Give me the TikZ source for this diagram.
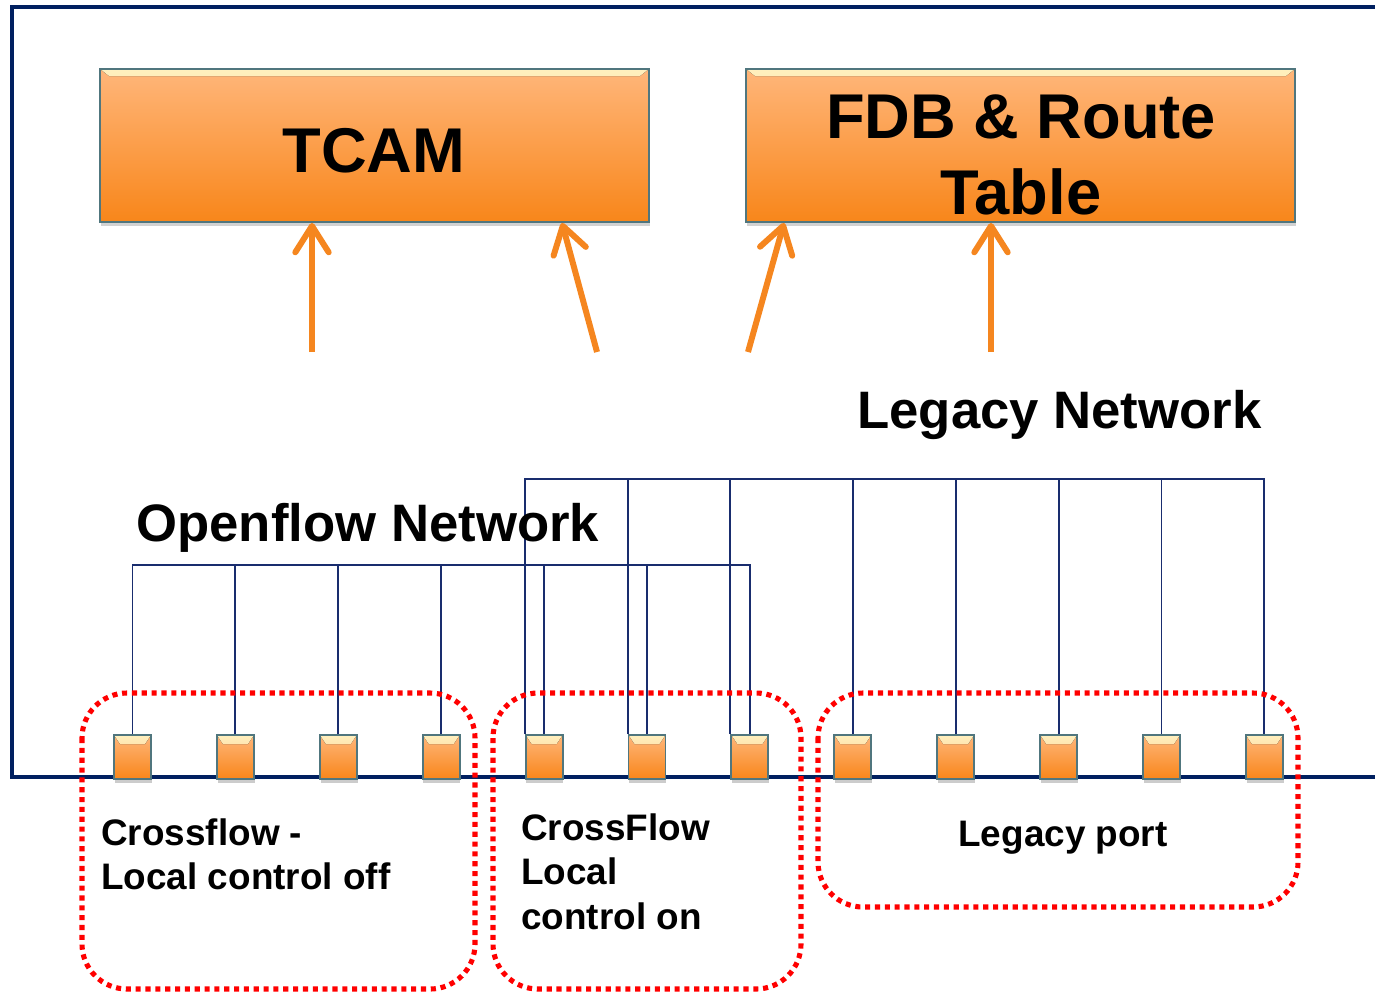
\documentclass[tikz,border=0pt]{standalone}
\usepackage{fontspec}
\setmainfont{Liberation Sans}
\usetikzlibrary{arrows.meta,shadows,calc}

\definecolor{navy}{RGB}{0,32,96}
\definecolor{wire}{RGB}{25,45,110}
\definecolor{orangeTop}{RGB}{255,182,122}
\definecolor{orangeBot}{RGB}{248,134,26}
\definecolor{bevel}{RGB}{255,240,190}
\definecolor{edge}{RGB}{80,118,126}
\definecolor{arrowOrange}{RGB}{245,134,31}

\tikzset{
  frame/.style={draw=navy, line width=2.7pt},
  wireline/.style={draw=wire, line width=1.1pt},
  tablebox/.style={draw=edge, line width=1.1pt, top color=orangeTop, bottom color=orangeBot,
    minimum width=10.98cm, minimum height=3.06cm, inner sep=0pt,
    drop shadow={shadow xshift=0.6pt, shadow yshift=-2.4pt, opacity=0.35},
    path picture={
      \fill[top color=bevel, bottom color=orangeTop!90!bevel]
        (path picture bounding box.north west) -- (path picture bounding box.north east)
        -- ([shift={(-9,7)}]path picture bounding box.north east)
        -- ([shift={(9,7)}]path picture bounding box.north west) -- cycle;
    }},
  portbox/.style={draw=edge, line width=1.1pt, top color=orangeTop, bottom color=orangeBot,
    minimum width=0.74cm, minimum height=0.88cm, inner sep=0pt,
    drop shadow={shadow xshift=0.4pt, shadow yshift=-2.2pt, opacity=0.4},
    path picture={
      \fill[top color=bevel, bottom color=orangeTop!90!bevel]
        (path picture bounding box.north west) -- (path picture bounding box.north east)
        -- ([shift={(-6,9)}]path picture bounding box.north east)
        -- ([shift={(6,9)}]path picture bounding box.north west) -- cycle;
    }},
  feed/.style={draw=arrowOrange, line width=3.4pt,
    -{Straight Barb[length=15pt,width=19pt,round]}},
  zone/.style={draw=red, line width=2.9pt, dash pattern=on 2.9pt off 2.7pt,
    rounded corners=0.9cm},
  bigtext/.style={font=\fontsize{36}{43.6}\selectfont\bfseries, inner sep=0pt},
  nettext/.style={font=\fontsize{30}{36}\selectfont\bfseries, inner sep=0pt},
  porttext/.style={font=\fontsize{21}{25.5}\selectfont\bfseries, inner sep=0pt, align=left},
}

\begin{document}
\begin{tikzpicture}[x=0.02cm, y=-0.02cm]
  \path[use as bounding box] (0,0) rectangle (1375,992);
  \fill[white] (0,0) rectangle (1375,992);
  \clip (0,0) rectangle (1375,992);

  % switch chassis
  \draw[frame] (1385,7) -- (12,7) -- (12,777) -- (1385,777);

  % lookup tables
  \node[tablebox] (tcam) at (374.5,145.5) {};
  \node[tablebox] (fdb) at (1020.5,145.5) {};
  \node[bigtext, anchor=base] (tcamtxt) at (374,172) {TCAM};
  \node[bigtext, anchor=north, align=center] (fdbtxt) at (1021,94) {FDB \& Route\\Table};

  % lookups feeding the tables
  \coordinate (a1) at (312,352);
  \coordinate (a2) at (597,352);
  \coordinate (a3) at (748,352);
  \coordinate (a4) at (991,352);
  \draw[feed] (a1) -- (a1 |- tcam.south);
  \draw[feed] (a2) -- ($(tcam.south)+(187.5,0)$);
  \draw[feed] (a3) -- ($(fdb.south)+(-236.5,0)$);
  \draw[feed] (a4) -- (a4 |- fdb.south);

  % bus levels
  \coordinate (ofbus) at (0,565);
  \coordinate (lgbus) at (0,479);

  % ports
  \foreach \i in {1,...,12}
    \node[portbox] (p\i) at ({132.5+102.9*(\i-1)},757) {};

  % openflow network
  \draw[wireline] (p1.north) -- (p1.north |- ofbus) -- (p7.north |- ofbus) -- (p7.north);
  \foreach \i in {2,...,6}
    \draw[wireline] (p\i.north) -- (p\i.north |- ofbus);

  % legacy network
  \draw[wireline] (p5.north west) -- (p5.north west |- lgbus) -- (p12.north |- lgbus) -- (p12.north);
  \foreach \i in {6,7}
    \draw[wireline] (p\i.north west) -- (p\i.north west |- lgbus);
  \foreach \i in {8,...,11}
    \draw[wireline] (p\i.north) -- (p\i.north |- lgbus);

  \node[nettext, anchor=base west] (lgname) at (857,428) {Legacy Network};
  \node[nettext, anchor=base west] (ofname) at (136,541) {Openflow Network};

  % port groups
  \draw[zone] (82,693) rectangle (475,989);
  \draw[zone] (493,693) rectangle (801,989);
  \draw[zone] (818,693) rectangle (1298,907);

  \node[porttext, anchor=north west] (g1) at (101,818) {Crossflow -\\Local control off};
  \node[porttext, anchor=north west] (g2) at (521,813) {CrossFlow\\Local\\control on};
  \node[porttext, anchor=base] (g3) at (1063,846) {Legacy port};
\end{tikzpicture}
\end{document}
